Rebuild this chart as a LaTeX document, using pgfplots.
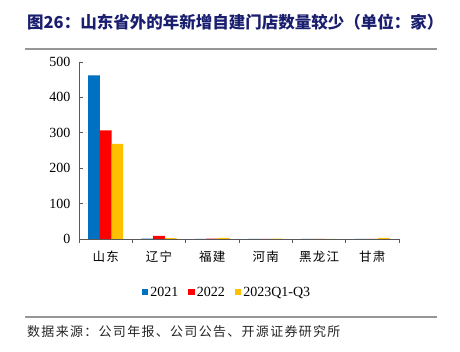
\documentclass[border=0pt]{standalone}
\usepackage{pgfplots}
\pgfplotsset{compat=1.18}
\usepackage{fontspec}
\setmainfont{Liberation Serif}
\newfontfamily\cjk{Noto Sans CJK SC}
\newfontfamily\cjksp[LetterSpace=10]{Noto Sans CJK SC}
\definecolor{c21}{HTML}{0070C0}
\definecolor{c22}{HTML}{FF0000}
\definecolor{c23}{HTML}{FFC000}
\definecolor{navy}{RGB}{25,30,110}
\definecolor{rule}{RGB}{150,150,150}
\begin{document}
\begin{tikzpicture}
\useasboundingbox (0,0) rectangle (460pt,-352pt);
\node[anchor=base west, text=navy, font=\cjk\bfseries\fontsize{16.5}{18}\selectfont, inner sep=0pt] at (27pt,-29pt) {图26：山东省外的年新增自建门店数量较少（单位：家）};
\draw[rule, line width=1.3pt] (25pt,-49pt) -- (437pt,-49pt);
\draw[rule, line width=1.3pt] (25pt,-317pt) -- (437pt,-317pt);
\node[anchor=base west, text=black!85, font=\cjksp\fontsize{13}{15}\selectfont, inner sep=0pt] at (27pt,-336pt) {数据来源：公司年报、公司公告、开源证券研究所};
\begin{axis}[
  at={(79pt,-239pt)}, anchor=south west,
  scale only axis, width=320pt, height=177pt,
  ymin=0, ymax=500, xmin=-0.5, xmax=5.5,
  axis x line=bottom, axis y line=left,
  axis line style={-, draw=black!65, line width=0.8pt},
  ytick={0,100,...,500},
  xtick={0,...,5},
  xticklabels={山东,辽宁,福建,河南,黑龙江,甘肃},
  x tick label style={font=\cjksp\fontsize{12.5}{14}\selectfont, yshift=-4pt},
  y tick label style={font=\fontsize{14}{16}\selectfont, xshift=-5pt},
  /pgf/number format/assume math mode=true,
  major x tick style={draw=none},
  minor xtick={-0.5,0.5,...,5.5},
  minor tick length=4pt,
  major tick length=4pt,
  tick style={draw=black!65, line width=0.8pt},
  tick align=inside,
  ybar=0pt, bar width=11.7pt,
  legend columns=3,
  legend style={at={(0.4625,-0.30)}, anchor=center, draw=none, font=\fontsize{14}{15}\selectfont,
    /tikz/every even column/.append style={column sep=8pt}},
  legend image code/.code={\fill[#1] (0pt,-3pt) rectangle (6.5pt,3.5pt);},
]
\addplot[fill=c21, draw=none] coordinates {(0,462) (1,1) (2,0) (3,0) (4,0) (5,0)};
\addplot[fill=c22, draw=none] coordinates {(0,307) (1,9) (2,1) (3,0) (4,0) (5,0)};
\addplot[fill=c23, draw=none] coordinates {(0,269) (1,2.5) (2,3.5) (3,1) (4,0) (5,3)};
\legend{2021,2022,2023Q1-Q3}
\end{axis}
\end{tikzpicture}
\end{document}
